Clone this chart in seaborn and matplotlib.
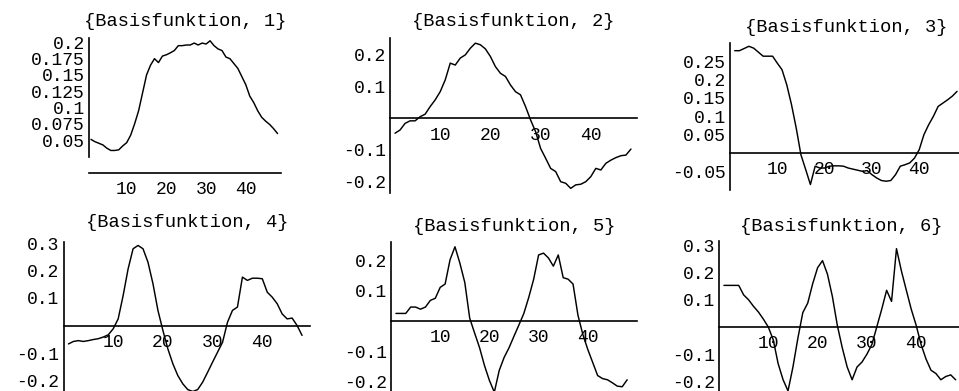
import seaborn as sns
import matplotlib.pyplot as plt
from matplotlib.ticker import FixedLocator, MultipleLocator

# Stuetzstellen 1..48
x = list(range(1, 49))

basis_1 = [0.051, 0.0475, 0.045, 0.0425, 0.0375, 0.034, 0.034, 0.035, 0.041, 0.046,
           0.0575, 0.075, 0.095, 0.1225, 0.15, 0.165, 0.175, 0.169, 0.179, 0.181,
           0.184, 0.1875, 0.195, 0.195, 0.196, 0.196, 0.199, 0.196, 0.199, 0.1975,
           0.2025, 0.195, 0.19, 0.1875, 0.1775, 0.175, 0.1675, 0.16, 0.1475, 0.135,
           0.1175, 0.1075, 0.095, 0.085, 0.079, 0.074, 0.0675, 0.06]

basis_2 = [-0.047, -0.037, -0.016, -0.008, -0.008, 0.005, 0.013, 0.037, 0.058, 0.084,
           0.121, 0.174, 0.168, 0.19, 0.2, 0.221, 0.237, 0.232, 0.219, 0.195,
           0.163, 0.142, 0.132, 0.105, 0.084, 0.074, 0.037, -0.005, -0.042, -0.095,
           -0.126, -0.158, -0.168, -0.2, -0.205, -0.221, -0.21, -0.208, -0.2, -0.184,
           -0.158, -0.163, -0.142, -0.132, -0.124, -0.118, -0.116, -0.097]

basis_3 = [0.279, 0.279, 0.285, 0.291, 0.286, 0.275, 0.264, 0.264, 0.264, 0.245,
           0.227, 0.186, 0.132, 0.068, -0.005, -0.045, -0.086, -0.036, -0.041, -0.041,
           -0.036, -0.035, -0.035, -0.036, -0.041, -0.044, -0.047, -0.05, -0.048, -0.059,
           -0.068, -0.075, -0.077, -0.075, -0.059, -0.036, -0.032, -0.027, -0.014, 0.009,
           0.05, 0.077, 0.1, 0.127, 0.136, 0.145, 0.155, 0.168]

basis_4 = [-0.067, -0.058, -0.055, -0.058, -0.055, -0.051, -0.048, -0.042, -0.034, -0.012,
           0.024, 0.109, 0.206, 0.279, 0.291, 0.279, 0.23, 0.152, 0.055, -0.018,
           -0.085, -0.139, -0.182, -0.212, -0.233, -0.24, -0.233, -0.206, -0.17, -0.133,
           -0.097, -0.061, 0.012, 0.055, 0.067, 0.176, 0.164, 0.172, 0.172, 0.17,
           0.121, 0.103, 0.079, 0.042, 0.024, 0.027, 0.0, -0.036]

basis_5 = [0.025, 0.025, 0.025, 0.046, 0.046, 0.039, 0.046, 0.068, 0.075, 0.111,
           0.122, 0.202, 0.245, 0.191, 0.127, 0.009, -0.04, -0.088, -0.147, -0.196,
           -0.235, -0.163, -0.12, -0.088, -0.05, -0.013, 0.025, 0.078, 0.138, 0.218,
           0.224, 0.208, 0.181, 0.218, 0.143, 0.138, 0.122, 0.019, -0.045, -0.094,
           -0.137, -0.18, -0.19, -0.194, -0.204, -0.215, -0.217, -0.194]

basis_6 = [0.153, 0.153, 0.153, 0.153, 0.118, 0.1, 0.076, 0.055, 0.029, 0.0,
           -0.047, -0.135, -0.194, -0.235, -0.147, -0.041, 0.053, 0.088, 0.159, 0.218,
           0.244, 0.194, 0.112, 0.006, -0.076, -0.147, -0.194, -0.147, -0.129, -0.1,
           -0.065, 0.0, 0.065, 0.135, 0.094, 0.288, 0.206, 0.135, 0.065, 0.006,
           -0.065, -0.118, -0.159, -0.171, -0.194, -0.182, -0.176, -0.194]

titles = ["{Basisfunktion, %d}" % i for i in range(1, 7)]
xticks = [10, 20, 30, 40]
yticks_1 = [0.05, 0.075, 0.1, 0.125, 0.15, 0.175, 0.2]
yticks_2 = [-0.2, -0.1, 0.1, 0.2]
yticks_3 = [-0.05, 0.05, 0.1, 0.15, 0.2, 0.25]
yticks_4 = [-0.2, -0.1, 0.1, 0.2, 0.3]
yticks_5 = [-0.2, -0.1, 0.1, 0.2]
yticks_6 = [-0.2, -0.1, 0.1, 0.2, 0.3]

series = [basis_1, basis_2, basis_3, basis_4, basis_5, basis_6]
yticks = [yticks_1, yticks_2, yticks_3, yticks_4, yticks_5, yticks_6]

# Layout in Pixeln: x0 (Pixel von x=0), px pro x-Einheit, y0 (Pixel von y=0), px pro y-Einheit
layout = [
    dict(x0=87, sx=3.97, y0=172.6, sy=651, xlim=(0.5, 48.9), ylim=(0, 0.2068),
         ybounds=(0.024, 0.2068), yminor=0.005, tgap=16.5),
    dict(x0=390, sx=5.02, y0=118.3, sy=317, xlim=(0, 49.2), ylim=(-0.236, 0.252),
         ybounds=None, yminor=0.02, tgap=16.5),
    dict(x0=730, sx=4.73, y0=153, sy=366.7, xlim=(0, 49), ylim=(-0.101, 0.30),
         ybounds=None, yminor=0.01, tgap=15),
    dict(x0=63.5, sx=4.97, y0=325.5, sy=275, xlim=(0, 49.6), ylim=(-0.26, 0.305),
         ybounds=None, yminor=0.02, tgap=19),
    dict(x0=391, sx=4.92, y0=321, sy=303, xlim=(0, 50), ylim=(-0.26, 0.262),
         ybounds=None, yminor=0.02, tgap=15),
    dict(x0=719, sx=4.93, y0=327, sy=272, xlim=(0, 49.5), ylim=(-0.26, 0.318),
         ybounds=None, yminor=0.02, tgap=14.5),
]

sns.set_style("white")
plt.rcParams['font.family'] = ['Liberation Mono', 'DejaVu Sans Mono']

W, H = 959, 391
fig = plt.figure(figsize=(W / 100, H / 100), dpi=100)

for vals, ticks, title, lay in zip(series, yticks, titles, layout):
    left = lay['x0'] + lay['xlim'][0] * lay['sx']
    right = lay['x0'] + lay['xlim'][1] * lay['sx']
    top = lay['y0'] - lay['ylim'][1] * lay['sy']
    bottom = lay['y0'] - lay['ylim'][0] * lay['sy']
    ax = fig.add_axes([left / W, 1 - bottom / H, (right - left) / W, (bottom - top) / H])
    ax.patch.set_visible(False)

    sns.lineplot(x=x, y=vals, ax=ax, color='black', linewidth=1.05)
    ax.set_xlim(*lay['xlim'])
    ax.set_ylim(*lay['ylim'])

    for s in ['top', 'right']:
        ax.spines[s].set_visible(False)
    ax.spines['bottom'].set_position(('data', 0))
    for s in ['left', 'bottom']:
        ax.spines[s].set_linewidth(1.2)
        ax.spines[s].set_color('black')
    if lay['ybounds']:
        ax.spines['left'].set_bounds(*lay['ybounds'])

    ax.xaxis.set_major_locator(FixedLocator(xticks))
    ax.set_xticklabels([str(t) for t in xticks])
    ax.xaxis.set_minor_locator(MultipleLocator(2))
    ax.yaxis.set_major_locator(FixedLocator(ticks))
    ax.set_yticklabels([format(t, 'g') for t in ticks])
    ax.yaxis.set_minor_locator(MultipleLocator(lay['yminor']))

    ax.tick_params(axis='both', which='major', direction='in', length=2.8, width=1.0,
                   labelsize=13, colors='black')
    ax.tick_params(axis='both', which='minor', direction='in', length=1.5, width=0.9,
                   colors='black')
    ax.tick_params(axis='x', which='major', pad=6)
    ax.tick_params(axis='y', which='major', pad=3)
    ax.set_xlabel('')
    ax.set_ylabel('')

    ax.annotate(title, xy=(0.5, 1), xycoords='axes fraction',
                xytext=(0, lay['tgap'] * 0.72), textcoords='offset points',
                ha='center', va='center', fontsize=13.5, color='black')

fig.savefig('out.png', dpi=100)
